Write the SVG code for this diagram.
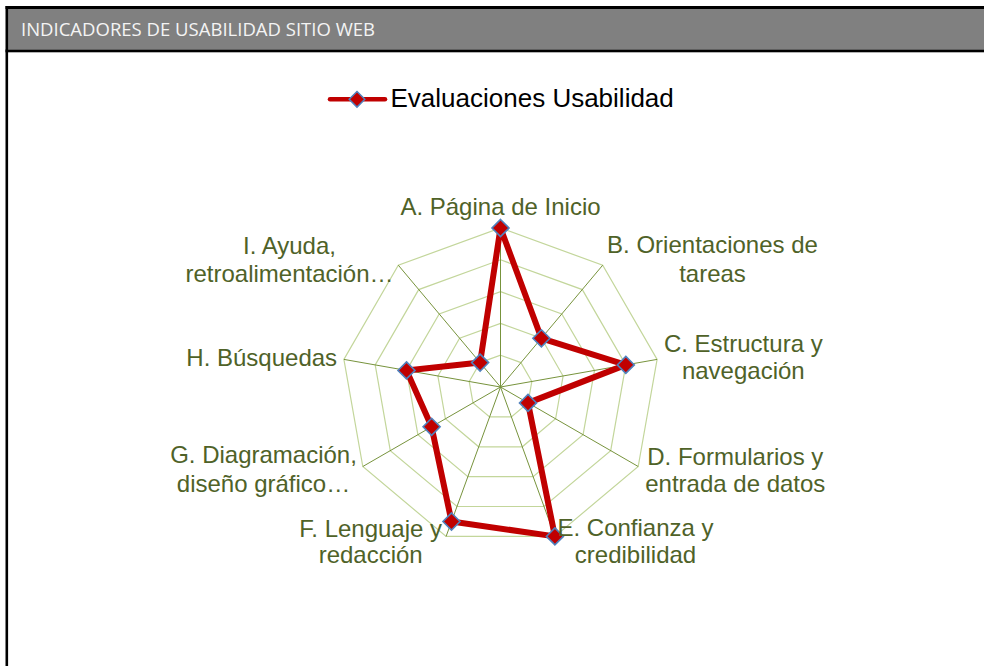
<svg xmlns="http://www.w3.org/2000/svg" width="984" height="666" viewBox="0 0 984 666">
  <style>
    .ring { fill: none; stroke: #c3d69b; stroke-width: 1.2; }
    .spoke { stroke: #77933c; stroke-width: 1; }
    .lbl { font-family: "Liberation Sans", Arial, sans-serif; font-size: 24px; fill: #4f6228; text-anchor: middle; }
    .series { fill: none; stroke: #c00000; stroke-width: 6; stroke-linejoin: round; }
    .mk { fill: #c00000; stroke: #4f81bd; stroke-width: 1.6; }
  </style>
  <defs>
    <path id="dia" d="M0,-8.5 L8.5,0 L0,8.5 L-8.5,0 Z"/>
  </defs>
  <rect x="0" y="0" width="984" height="666" fill="#ffffff"/>
  <g id="frame">
    <rect x="8" y="9" width="976" height="40.5" fill="#808080"/>
    <rect x="5.5" y="6" width="978.5" height="3" fill="#000000"/>
    <rect x="5.5" y="49.5" width="978.5" height="2.8" fill="#000000"/>
    <rect x="5.5" y="6" width="2.6" height="660" fill="#000000"/>
    <text x="21" y="36" font-family="'Open Sans', 'Liberation Sans', sans-serif" font-size="18" fill="#f4f4f4" textLength="354" lengthAdjust="spacingAndGlyphs">INDICADORES DE USABILIDAD SITIO WEB</text>
  </g>
  <g id="legend">
    <line x1="330" y1="99.3" x2="385" y2="99.3" stroke="#c00000" stroke-width="4.5" stroke-linecap="round"/>
    <use href="#dia" x="357" y="99.3" class="mk" transform="translate(357 99.3) scale(0.92) translate(-357 -99.3)"/>
    <text x="390.5" y="106.7" font-family="'Liberation Sans', Arial, sans-serif" font-size="26" fill="#000000">Evaluaciones Usabilidad</text>
  </g>
  <g id="chart" transform="translate(500.5 387)">
    <g id="grid">
      <polygon class="ring" points="0,-31.8 20.4,-24.4 31.3,-5.5 27.5,15.9 10.9,29.9 -10.9,29.9 -27.5,15.9 -31.3,-5.5 -20.4,-24.4"/>
      <polygon class="ring" points="0,-63.6 40.9,-48.7 62.6,-11 55.1,31.8 21.8,59.8 -21.8,59.8 -55.1,31.8 -62.6,-11 -40.9,-48.7"/>
      <polygon class="ring" points="0,-95.4 61.3,-73.1 94,-16.6 82.6,47.7 32.6,89.6 -32.6,89.6 -82.6,47.7 -94,-16.6 -61.3,-73.1"/>
      <polygon class="ring" points="0,-127.2 81.8,-97.4 125.3,-22.1 110.2,63.6 43.5,119.5 -43.5,119.5 -110.2,63.6 -125.3,-22.1 -81.8,-97.4"/>
      <polygon class="ring" points="0,-159 102.2,-121.8 156.6,-27.6 137.7,79.5 54.4,149.4 -54.4,149.4 -137.7,79.5 -156.6,-27.6 -102.2,-121.8"/>
    </g>
    <g id="connectors">
      <line class="spoke" x1="0" y1="0" x2="0" y2="-159"/>
      <line class="spoke" x1="0" y1="0" x2="102.2" y2="-121.8"/>
      <line class="spoke" x1="0" y1="0" x2="156.6" y2="-27.6"/>
      <line class="spoke" x1="0" y1="0" x2="137.7" y2="79.5"/>
      <line class="spoke" x1="0" y1="0" x2="54.4" y2="149.4"/>
      <line class="spoke" x1="0" y1="0" x2="-54.4" y2="149.4"/>
      <line class="spoke" x1="0" y1="0" x2="-137.7" y2="79.5"/>
      <line class="spoke" x1="0" y1="0" x2="-156.6" y2="-27.6"/>
      <line class="spoke" x1="0" y1="0" x2="-102.2" y2="-121.8"/>
      <polygon id="series-line" class="series" points="0,-159 40.9,-48.7 125.3,-22.1 27.5,15.9 54.4,149.4 -49,134.5 -68.9,39.8 -94,-16.6 -20.4,-24.4"/>
    </g>
    <g id="markers">
      <use href="#dia" class="mk" x="0" y="-159"/>
      <use href="#dia" class="mk" x="40.9" y="-48.7"/>
      <use href="#dia" class="mk" x="125.3" y="-22.1"/>
      <use href="#dia" class="mk" x="27.5" y="15.9"/>
      <use href="#dia" class="mk" x="54.4" y="149.4"/>
      <use href="#dia" class="mk" x="-49" y="134.5"/>
      <use href="#dia" class="mk" x="-68.9" y="39.8"/>
      <use href="#dia" class="mk" x="-94" y="-16.6"/>
      <use href="#dia" class="mk" x="-20.4" y="-24.4"/>
    </g>
  </g>
  <g id="node-A"><text class="lbl" x="500.5" y="215">A. Página de Inicio</text></g>
  <g id="node-B"><text class="lbl" x="712.5" y="253.3">B. Orientaciones de</text><text class="lbl" x="712.5" y="281.7">tareas</text></g>
  <g id="node-C"><text class="lbl" x="743.3" y="351.7">C. Estructura y</text><text class="lbl" x="743.3" y="379.3">navegación</text></g>
  <g id="node-D"><text class="lbl" x="735.3" y="465">D. Formularios y</text><text class="lbl" x="735.3" y="492">entrada de datos</text></g>
  <g id="node-E"><text class="lbl" x="635.5" y="536">E. Confianza y</text><text class="lbl" x="635.5" y="563.3">credibilidad</text></g>
  <g id="node-F"><text class="lbl" x="370.7" y="536.7">F. Lenguaje y</text><text class="lbl" x="370.7" y="563.3">redacción</text></g>
  <g id="node-G"><text class="lbl" x="263.5" y="463.3">G. Diagramación,</text><text class="lbl" x="263.5" y="491.7">diseño gráfico…</text></g>
  <g id="node-H"><text class="lbl" x="261.7" y="365.7">H. Búsquedas</text></g>
  <g id="node-I"><text class="lbl" x="289.5" y="254.3">I. Ayuda,</text><text class="lbl" x="289.5" y="281.7">retroalimentación…</text></g>
</svg>
